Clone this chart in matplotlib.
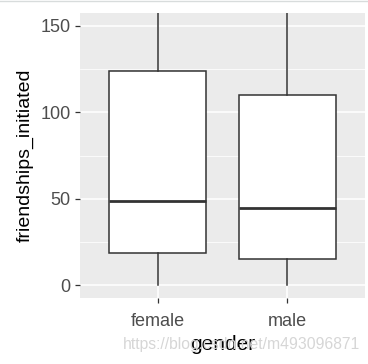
import matplotlib
matplotlib.use('Agg')
import matplotlib.pyplot as plt

# box statistics
genders = ['female', 'male']
q1 = [18.8, 15.0]
medians = [48.4, 44.8]
q3 = [124.1, 110.3]
whisker_lo = [0, 0]
whisker_hi = [300, 280]
y_ticks = [0, 50, 100, 150]

plt.rcParams['font.family'] = ['Liberation Sans', 'DejaVu Sans']

fig = plt.figure(figsize=(3.68, 3.64), dpi=100)
ax = fig.add_axes([80 / 368, 66 / 364, 285 / 368, 285 / 364])
ax.set_facecolor('#EBEBEB')

stats = []
for g, a, m, b, lo, hi in zip(genders, q1, medians, q3, whisker_lo, whisker_hi):
    stats.append(dict(label=g, q1=a, med=m, q3=b, whislo=lo, whishi=hi, fliers=[]))

ax.bxp(stats, positions=[1, 2], widths=0.75, patch_artist=True, showcaps=False,
       boxprops=dict(facecolor='white', edgecolor='#333333', linewidth=1.1),
       whiskerprops=dict(color='#333333', linewidth=1.1),
       medianprops=dict(color='#333333', linewidth=2.0), zorder=3)

ax.set_xlim(0.4, 2.6)
ax.set_ylim(-7.5, 157.5)
ax.set_yticks(y_ticks)
ax.set_yticks([25, 75, 125], minor=True)
ax.set_xticks([1, 2])
ax.set_xticklabels(genders)

ax.grid(True, which='major', color='white', linewidth=1.1, zorder=0)
ax.grid(True, which='minor', axis='y', color='white', linewidth=0.55, zorder=0)
ax.set_axisbelow(True)
for s in ax.spines.values():
    s.set_visible(False)

ax.tick_params(which='major', length=3.6, width=0.9, color='#333333',
               labelcolor='#4D4D4D', labelsize=13)
ax.tick_params(axis='x', pad=7)
ax.tick_params(axis='y', pad=3)
ax.tick_params(which='minor', length=0)

ax.set_xlabel('gender', fontsize=15, color='black', labelpad=4)
ax.set_ylabel('friendships_initiated', fontsize=14, color='black', labelpad=5)

fig.text(241 / 368, 1 - 345 / 364, 'https://blog.csdn.net/m493096871', ha='center',
         va='center', fontsize=11.3, color='#D6D6D6', zorder=0)

# thin border line at the very top of the screenshot
fig.add_artist(plt.Line2D([0, 1], [1 - 1 / 364, 1 - 1 / 364], color='#D8DCDC', linewidth=1))

fig.savefig('out.png', dpi=100)
